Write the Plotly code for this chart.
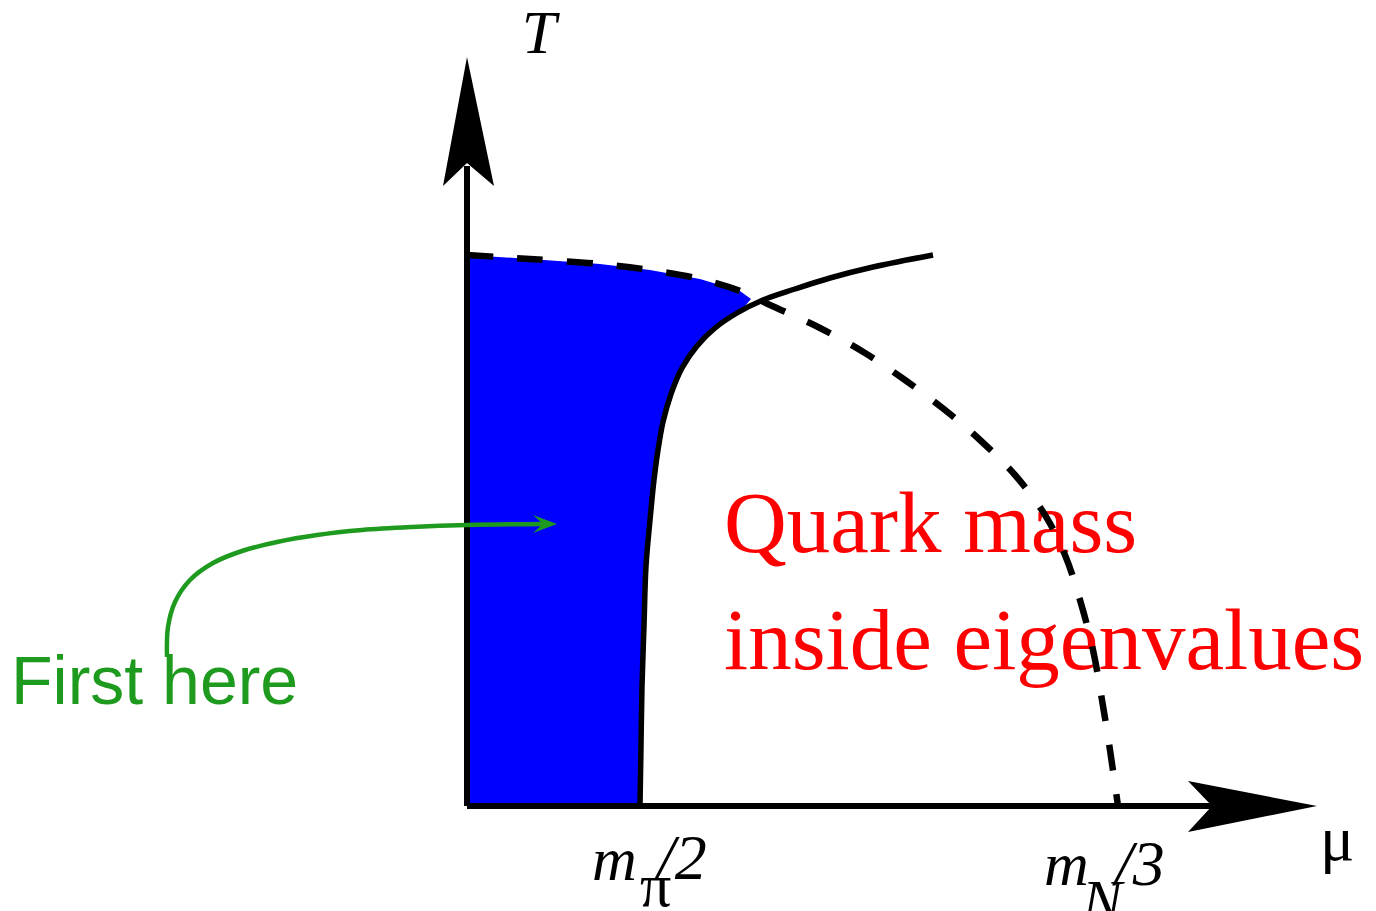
import plotly.graph_objects as go

# Diagram coordinates: mu to the right, T upward, origin at the axis crossing.
# ---- data ----
dash_mu = [0, 63, 133, 183, 233, 273, 303, 353, 398, 438, 478, 513, 548, 578, 598, 613, 626, 635, 643, 651]
dash_T = [551, 547, 542, 536, 527, 515, 501, 478, 453, 426, 396, 366, 331, 291, 251, 206, 156, 106, 56, 0]

solid_mu = [173, 174, 175, 177, 179, 183, 187, 191, 196, 204, 215, 230, 248, 270, 296, 328, 363, 406, 466]
solid_T = [0, 60, 120, 180, 240, 286, 326, 356, 384, 412, 438, 460, 478, 493, 506, 517, 528, 539, 551]

fill_mu = [0, 0, 63, 133, 183, 233, 273, 284, 272, 250, 232, 217, 206, 198, 193, 188, 184, 180, 177, 175, 174, 173]
fill_T = [0, 551, 547, 542, 536, 527, 515, 507, 493, 478, 460, 438, 412, 384, 356, 326, 286, 240, 180, 120, 60, 0]

green_mu = [-300, -299, -292, -277, -254, -225, -190, -150, -105, -55, 0, 78]
green_T = [149, 179, 204, 226, 243, 255, 264, 271, 276, 279, 281, 282]

red_lines = ["Quark mass", "inside eigenvalues"]
green_label = "First here"
T_label = "T"
mu_label = "μ"

# ---- geometry of decorations ----
vaxis_top = 640
haxis_end = 750
varrow_mu = [0, -24, 0, 27, 0]
varrow_T = [749, 620, 643, 620, 749]
harrow_mu = [850, 721, 745, 721, 850]
harrow_T = [0, 25, 0, -26, 0]
garrow_mu = [90, 66, 76, 66, 90]
garrow_T = [282, 291, 282, 273, 282]

GREEN = "rgb(30,155,30)"
SERIF = "Liberation Serif, Times New Roman, serif"
SANS = "Liberation Sans, Arial, sans-serif"

fig = go.Figure()

# blue region
fig.add_trace(go.Scatter(x=fill_mu, y=fill_T, mode="lines", fill="toself",
                         fillcolor="#0000ff", line=dict(width=0, color="#0000ff"),
                         hoverinfo="skip"))

# red text (below dashed curve)
fig.add_trace(go.Scatter(x=[257, 257], y=[276, 159], mode="text", text=red_lines,
                         textposition="middle right",
                         textfont=dict(family=SERIF, size=87, color="#ff0000"),
                         hoverinfo="skip"))

# solid curve
fig.add_trace(go.Scatter(x=solid_mu, y=solid_T, mode="lines",
                         line=dict(color="black", width=5.5, shape="spline"),
                         hoverinfo="skip"))
# dashed curve
fig.add_trace(go.Scatter(x=dash_mu, y=dash_T, mode="lines",
                         line=dict(color="black", width=6.5, shape="spline", dash="26px,24px"),
                         hoverinfo="skip"))

# axes
fig.add_trace(go.Scatter(x=[0, 0], y=[0, vaxis_top], mode="lines",
                         line=dict(color="black", width=6), hoverinfo="skip"))
fig.add_trace(go.Scatter(x=[0, haxis_end], y=[0, 0], mode="lines",
                         line=dict(color="black", width=6), hoverinfo="skip"))
fig.add_trace(go.Scatter(x=varrow_mu, y=varrow_T, mode="lines", fill="toself",
                         fillcolor="black", line=dict(width=0, color="black"), hoverinfo="skip"))
fig.add_trace(go.Scatter(x=harrow_mu, y=harrow_T, mode="lines", fill="toself",
                         fillcolor="black", line=dict(width=0, color="black"), hoverinfo="skip"))

# green arrow
fig.add_trace(go.Scatter(x=green_mu, y=green_T, mode="lines",
                         line=dict(color=GREEN, width=4.5, shape="spline"), hoverinfo="skip"))
fig.add_trace(go.Scatter(x=garrow_mu, y=garrow_T, mode="lines", fill="toself",
                         fillcolor=GREEN, line=dict(width=0, color=GREEN), hoverinfo="skip"))
fig.add_trace(go.Scatter(x=[-456], y=[119], mode="text", text=[green_label],
                         textposition="middle right",
                         textfont=dict(family=SANS, size=68, color=GREEN), hoverinfo="skip"))


def label(x, y, s, size=60, pos="middle right"):
    fig.add_trace(go.Scatter(x=[x], y=[y], mode="text", text=[s], textposition=pos,
                             textfont=dict(family=SERIF, size=size, color="black"),
                             hoverinfo="skip", cliponaxis=False))


label(72, 769, "<i>" + T_label + "</i>", size=62, pos="middle center")
label(125, -58, "<i>m</i>", size=62)
label(173, -84, "π", size=62)
label(190, -57, "<i>/2</i>", size=64)
label(577, -63, "<i>m</i>", size=62)
label(615, -100, "<i>N</i>")
label(648, -63, "<i>/3</i>", size=64)
label(853, -38, mu_label, size=64)

fig.update_layout(
    width=1376, height=911, autosize=False,
    margin=dict(l=0, r=0, t=0, b=0),
    paper_bgcolor="white", plot_bgcolor="white",
    showlegend=False,
    xaxis=dict(range=[-467, 909], visible=False, fixedrange=True),
    yaxis=dict(range=[-105, 806], visible=False, fixedrange=True),
)

fig.write_html("out.html", post_script="document.body.style.margin='0px';",
               config={"displayModeBar": False})
